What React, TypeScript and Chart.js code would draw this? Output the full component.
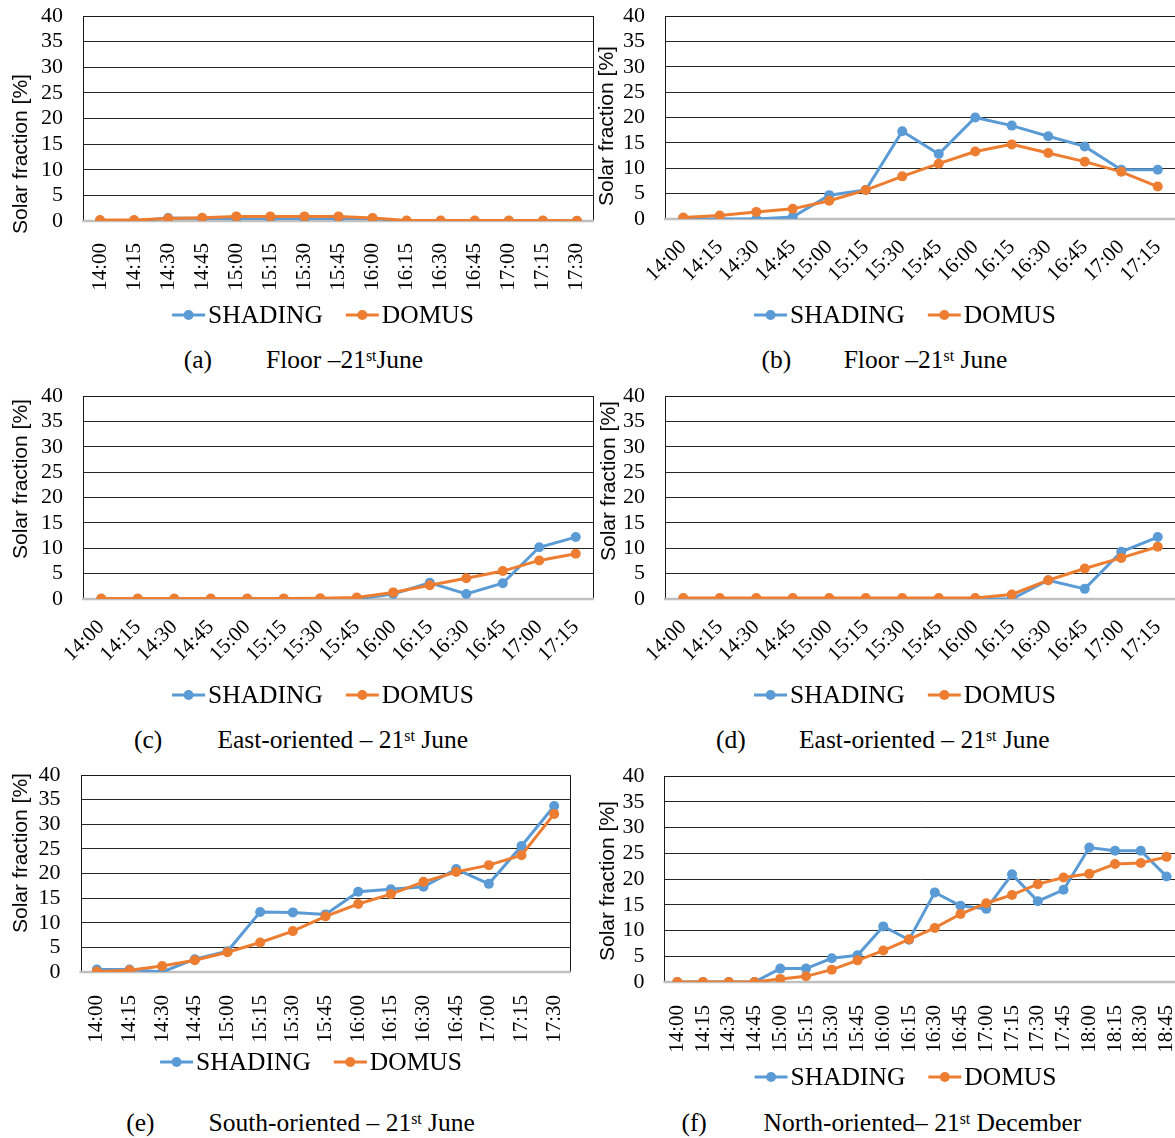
import React, { useEffect, useRef } from "react";
import { Chart, registerables } from "chart.js";
Chart.register(...registerables);

const TIMES_TO_1730 = ["14:00", "14:15", "14:30", "14:45", "15:00", "15:15", "15:30", "15:45", "16:00", "16:15", "16:30", "16:45", "17:00", "17:15", "17:30"];
const TIMES_TO_1715 = ["14:00", "14:15", "14:30", "14:45", "15:00", "15:15", "15:30", "15:45", "16:00", "16:15", "16:30", "16:45", "17:00", "17:15"];
const TIMES_TO_1845 = ["14:00", "14:15", "14:30", "14:45", "15:00", "15:15", "15:30", "15:45", "16:00", "16:15", "16:30", "16:45", "17:00", "17:15", "17:30", "17:45", "18:00", "18:15", "18:30", "18:45"];

const A_SHADING = [0, 0, 0.6, 0.5, 0.5, 0.5, 0.5, 0.5, 0.5, 0, 0, 0, 0, 0, 0];
const A_DOMUS = [0.2, 0.2, 0.5, 0.65, 0.9, 0.9, 0.9, 0.9, 0.6, 0.1, 0.1, 0.1, 0.1, 0.1, 0.05];
const B_SHADING = [0, 0, 0, 0.4, 4.7, 5.7, 17.3, 12.8, 20.0, 18.4, 16.3, 14.3, 9.7, 9.7];
const B_DOMUS = [0.3, 0.7, 1.4, 2.0, 3.6, 5.7, 8.4, 10.9, 13.3, 14.7, 13.0, 11.3, 9.3, 6.4];
const C_SHADING = [0, 0, 0, 0, 0, 0, 0, 0, 1.0, 3.2, 1.0, 3.1, 10.2, 12.2];
const C_DOMUS = [0.1, 0.1, 0.1, 0.1, 0.1, 0.1, 0.15, 0.3, 1.3, 2.7, 4.1, 5.5, 7.6, 8.9];
const D_SHADING = [0, 0, 0, 0, 0, 0, 0, 0, 0, 0, 3.7, 2.0, 9.3, 12.2];
const D_DOMUS = [0.2, 0.2, 0.2, 0.2, 0.2, 0.2, 0.2, 0.2, 0.2, 0.9, 3.7, 6.0, 8.1, 10.3];
const E_SHADING = [0.5, 0.5, 0, 2.6, 4.2, 12.2, 12.1, 11.7, 16.3, 16.8, 17.3, 20.9, 17.9, 25.6, 33.7];
const E_DOMUS = [0.1, 0.35, 1.2, 2.4, 4.0, 6.0, 8.3, 11.3, 13.8, 15.8, 18.3, 20.3, 21.7, 23.7, 32.1];
const F_SHADING = [0, 0, 0, 0, 2.6, 2.6, 4.6, 5.2, 10.8, 8.2, 17.4, 14.8, 14.2, 20.9, 15.7, 17.9, 26.1, 25.5, 25.5, 20.5];
const F_DOMUS = [0, 0, 0, 0, 0.6, 1.1, 2.4, 4.2, 6.1, 8.3, 10.5, 13.2, 15.3, 16.9, 19.0, 20.3, 21.0, 22.9, 23.1, 24.3];

const Y_TICKS_MAX = 40;
const Y_TICK_STEP = 5;
const SERIES_NAMES = ["SHADING", "DOMUS"];
const BLUE = "#5B9BD5";
const ORANGE = "#ED7D31";
const SERIF = "'Liberation Serif', 'Times New Roman', serif";
const SANS = "'Liberation Sans', Arial, sans-serif";
const TOP_PAD = 40;

type Area = { left: number; top: number; right: number; bottom: number };

type PanelProps = {
  canvas: { left: number; width: number; bottom: number };
  area: Area;
  labels: string[];
  shading: number[];
  domus: number[];
  rotation: number;
  tickPad: number;
  xHeight: number;
  legend: { cx: number; cy: number };
  yTitle: { cx: number; cy: number };
  caption: { tag: string; tagX: number; textX: number; cy: number; text: React.ReactNode };
};

const framePlugin = {
  id: "frame",
  beforeDatasetsDraw(chart: any) {
    const { ctx, chartArea } = chart;
    ctx.save();
    ctx.strokeStyle = "#1a1a1a";
    ctx.lineWidth = 1;
    ctx.beginPath();
    ctx.moveTo(Math.round(chartArea.left) + 0.5, chartArea.bottom);
    ctx.lineTo(Math.round(chartArea.left) + 0.5, Math.round(chartArea.top) + 0.5);
    ctx.lineTo(Math.round(chartArea.right) - 0.5, Math.round(chartArea.top) + 0.5);
    ctx.lineTo(Math.round(chartArea.right) - 0.5, chartArea.bottom);
    ctx.stroke();
    ctx.strokeStyle = "#c0c0c0";
    ctx.lineWidth = 2.5;
    ctx.beginPath();
    ctx.moveTo(chartArea.left - 1, chartArea.bottom);
    ctx.lineTo(chartArea.right, chartArea.bottom);
    ctx.stroke();
    ctx.restore();
  },
};

const legendPlugin = {
  id: "lineLegend",
  afterDraw(chart: any, _args: any, opts: any) {
    const { ctx } = chart;
    const lineLen = 33;
    const gap = 3;
    const itemGap = 23;
    ctx.save();
    ctx.font = `25.5px ${SERIF}`;
    const ds = chart.data.datasets;
    const widths = ds.map((d: any) => lineLen + gap + ctx.measureText(d.label).width);
    const total = widths.reduce((a: number, b: number) => a + b, 0) + itemGap * (ds.length - 1);
    let x = opts.cx - total / 2;
    const y = opts.cy;
    ds.forEach((d: any, i: number) => {
      ctx.strokeStyle = d.borderColor;
      ctx.lineWidth = 3;
      ctx.beginPath();
      ctx.moveTo(x, y);
      ctx.lineTo(x + lineLen, y);
      ctx.stroke();
      ctx.fillStyle = d.borderColor;
      ctx.beginPath();
      ctx.arc(x + lineLen / 2, y, 5, 0, Math.PI * 2);
      ctx.fill();
      ctx.fillStyle = "#000";
      ctx.textBaseline = "middle";
      ctx.textAlign = "left";
      ctx.fillText(d.label, x + lineLen + gap, y + 1);
      x += widths[i] + itemGap;
    });
    ctx.restore();
  },
};

function Panel(p: PanelProps) {
  const ref = useRef<HTMLCanvasElement | null>(null);
  const a = p.area;
  const cTop = a.top - TOP_PAD;
  const cHeight = p.canvas.bottom - cTop;
  const cLeft = p.canvas.left;
  const cWidth = p.canvas.width;
  useEffect(() => {
    if (!ref.current) return;
    const yWidth = a.left - cLeft;
    const padBottom = cTop + cHeight - a.bottom - p.xHeight;
    const chart = new Chart(ref.current, {
      type: "line",
      data: {
        labels: p.labels,
        datasets: [
          {
            label: SERIES_NAMES[0],
            data: p.shading,
            borderColor: BLUE,
            backgroundColor: BLUE,
            borderWidth: 3,
            pointRadius: 5,
            pointHoverRadius: 5,
            pointBorderWidth: 0,
            tension: 0,
            order: 1,
          },
          {
            label: SERIES_NAMES[1],
            data: p.domus,
            borderColor: ORANGE,
            backgroundColor: ORANGE,
            borderWidth: 3,
            pointRadius: 5,
            pointHoverRadius: 5,
            pointBorderWidth: 0,
            tension: 0,
            order: 0,
          },
        ],
      },
      options: {
        responsive: false,
        animation: false,
        devicePixelRatio: 1,
        events: [],
        layout: {
          padding: {
            left: 0,
            top: TOP_PAD,
            right: cLeft + cWidth - a.right,
            bottom: padBottom,
          },
        },
        plugins: {
          legend: { display: false },
          tooltip: { enabled: false },
          lineLegend: { cx: p.legend.cx - cLeft, cy: p.legend.cy - cTop },
        } as any,
        scales: {
          x: {
            type: "category",
            offset: true,
            grid: { display: false },
            border: { display: false },
            ticks: {
              autoSkip: false,
              minRotation: p.rotation,
              maxRotation: p.rotation,
              padding: p.tickPad,
              color: "#000",
              font: { family: SERIF, size: 21 },
            },
            afterFit: (s: any) => {
              s.height = p.xHeight;
            },
          },
          y: {
            min: 0,
            max: Y_TICKS_MAX,
            ticks: {
              stepSize: Y_TICK_STEP,
              autoSkip: false,
              padding: 20,
              color: "#000",
              font: { family: SERIF, size: 22 },
            },
            grid: {
              drawTicks: false,
              color: (ctx: any) => (ctx.tick && ctx.tick.value === 0 ? "rgba(0,0,0,0)" : "#262626"),
              lineWidth: 1,
            },
            border: { display: false },
            afterFit: (s: any) => {
              s.width = yWidth;
            },
          },
        },
      },
      plugins: [framePlugin, legendPlugin],
    });
    return () => chart.destroy();
  }, []);

  return (
    <>
      <canvas
        ref={ref}
        width={cWidth}
        height={cHeight}
        style={{ position: "absolute", left: cLeft, top: cTop, width: cWidth, height: cHeight }}
      />
      <div
        style={{
          position: "absolute",
          left: p.yTitle.cx,
          top: p.yTitle.cy,
          transform: "translate(-50%, -50%) rotate(-90deg)",
          whiteSpace: "nowrap",
          fontFamily: SANS,
          fontSize: 21,
          lineHeight: "24px",
          color: "#000",
        }}
      >
        Solar fraction [%]
      </div>
      <div
        style={{
          position: "absolute",
          left: p.caption.tagX,
          top: p.caption.cy - 15,
          fontFamily: SERIF,
          fontSize: 25.5,
          lineHeight: "30px",
          whiteSpace: "nowrap",
          color: "#000",
        }}
      >
        {p.caption.tag}
      </div>
      <div
        style={{
          position: "absolute",
          left: p.caption.textX,
          top: p.caption.cy - 15,
          fontFamily: SERIF,
          fontSize: 25.5,
          lineHeight: "30px",
          whiteSpace: "nowrap",
          color: "#000",
        }}
      >
        {p.caption.text}
      </div>
    </>
  );
}

const supStyle: React.CSSProperties = { fontSize: "0.62em", verticalAlign: "top", lineHeight: "20px", position: "relative", top: 1 };

export default function App() {
  return (
    <div
      style={{
        position: "absolute",
        left: 0,
        top: 0,
        width: 1175,
        height: 1138,
        overflow: "hidden",
        background: "#fff",
      }}
    >
      <Panel
        canvas={{ left: 0, width: 640, bottom: 340 }}
        area={{ left: 83, top: 16, right: 594, bottom: 221 }}
        labels={TIMES_TO_1730}
        shading={A_SHADING}
        domus={A_DOMUS}
        rotation={90}
        tickPad={14}
        xHeight={70}
        legend={{ cx: 323, cy: 315 }}
        yTitle={{ cx: 20, cy: 154 }}
        caption={{ tag: "(a)", tagX: 183.7, textX: 266, cy: 360, text: <>Floor –21<span style={supStyle}>st</span>June</> }}
      />
      <Panel
        canvas={{ left: 590, width: 620, bottom: 340 }}
        area={{ left: 665, top: 16, right: 1176, bottom: 219 }}
        labels={TIMES_TO_1715}
        shading={B_SHADING}
        domus={B_DOMUS}
        rotation={45}
        tickPad={8}
        xHeight={70}
        legend={{ cx: 905, cy: 315 }}
        yTitle={{ cx: 606, cy: 126 }}
        caption={{ tag: "(b)", tagX: 761.6, textX: 843.7, cy: 360, text: <>Floor –21<span style={supStyle}>st</span> June</> }}
      />
      <Panel
        canvas={{ left: 0, width: 640, bottom: 720 }}
        area={{ left: 83, top: 396, right: 594, bottom: 599 }}
        labels={TIMES_TO_1715}
        shading={C_SHADING}
        domus={C_DOMUS}
        rotation={45}
        tickPad={8}
        xHeight={70}
        legend={{ cx: 323, cy: 695 }}
        yTitle={{ cx: 20, cy: 479 }}
        caption={{ tag: "(c)", tagX: 134, textX: 217.4, cy: 740, text: <>East-oriented – 21<span style={supStyle}>st</span> June</> }}
      />
      <Panel
        canvas={{ left: 590, width: 620, bottom: 720 }}
        area={{ left: 665, top: 396, right: 1176, bottom: 599 }}
        labels={TIMES_TO_1715}
        shading={D_SHADING}
        domus={D_DOMUS}
        rotation={45}
        tickPad={8}
        xHeight={70}
        legend={{ cx: 905, cy: 695 }}
        yTitle={{ cx: 608, cy: 481 }}
        caption={{ tag: "(d)", tagX: 716, textX: 799, cy: 740, text: <>East-oriented – 21<span style={supStyle}>st</span> June</> }}
      />
      <Panel
        canvas={{ left: 0, width: 620, bottom: 1090 }}
        area={{ left: 80.5, top: 775, right: 570.5, bottom: 972 }}
        labels={TIMES_TO_1730}
        shading={E_SHADING}
        domus={E_DOMUS}
        rotation={90}
        tickPad={15}
        xHeight={70}
        legend={{ cx: 311, cy: 1062 }}
        yTitle={{ cx: 20, cy: 853 }}
        caption={{ tag: "(e)", tagX: 126.3, textX: 208.6, cy: 1123, text: <>South-oriented – 21<span style={supStyle}>st</span> June</> }}
      />
      <Panel
        canvas={{ left: 590, width: 640, bottom: 1100 }}
        area={{ left: 664.4, top: 776, right: 1179.4, bottom: 982 }}
        labels={TIMES_TO_1845}
        shading={F_SHADING}
        domus={F_DOMUS}
        rotation={90}
        tickPad={15}
        xHeight={70}
        legend={{ cx: 905.5, cy: 1077 }}
        yTitle={{ cx: 607, cy: 881 }}
        caption={{ tag: "(f)", tagX: 681.4, textX: 763.5, cy: 1123, text: <>North-oriented– 21<span style={supStyle}>st</span> December</> }}
      />
    </div>
  );
}
